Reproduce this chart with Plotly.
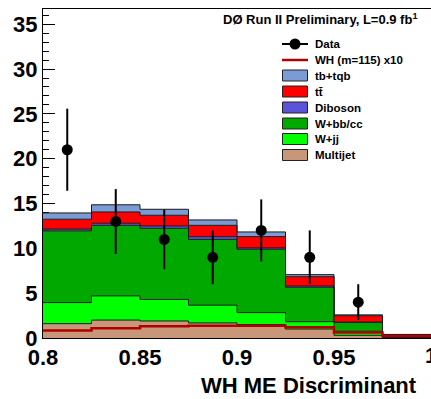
import plotly.graph_objects as go

# ---- data ----
edges = [0.8, 0.825, 0.85, 0.875, 0.9, 0.925, 0.95, 0.975, 1.0]
centers = [0.8125, 0.8375, 0.8625, 0.8875, 0.9125, 0.9375, 0.9625, 0.9875]
multijet = [1.6, 2.0, 1.9, 1.68, 1.5, 1.0, 0.3, 0.05]
w_jj = [2.35, 2.7, 2.4, 1.98, 1.33, 0.82, 0.45, 0.05]
w_bbcc = [8.0, 7.87, 7.94, 7.34, 7.07, 3.84, 1.0, 0.15]
diboson = [0.2, 0.23, 0.26, 0.3, 0.15, 0.14, 0.03, 0.02]
ttbar = [1.1, 1.26, 1.19, 1.27, 1.26, 1.04, 0.7, 0.08]
tb_tqb = [0.7, 0.8, 0.67, 0.6, 0.52, 0.23, 0.1, 0.05]
wh_x10 = [0.85, 1.08, 1.3, 1.38, 1.37, 1.2, 0.62, 0.22]
data = [21, 13, 11, 9, 12, 9, 4, None]
data_err = [4.58, 3.61, 3.32, 3.0, 3.46, 3.0, 2.0, None]

y_ticks = [0, 5, 10, 15, 20, 25, 30, 35]
x_ticks = [0.8, 0.85, 0.9, 0.95]
x_ticktext = ["0.8", "0.85", "0.9", "0.95"]
x_edge_tick = 1.0
x_edge_ticktext = "1"

components = [
    ("Multijet", multijet, "#c89678"),
    ("W+jj", w_jj, "#00ff00"),
    ("W+bb/cc", w_bbcc, "#00a800"),
    ("Diboson", diboson, "#5a55d8"),
    ("tt\u0304", ttbar, "#ff0000"),
    ("tb+tqb", tb_tqb, "#7b9bd6"),
]

W, H = 431, 399
ML, MR, MT, MB = 43, 0, 9, 61
PW, PH = W - ML - MR, H - MT - MB
FONT = "Liberation Sans, Arial, sans-serif"

fig = go.Figure()

cum = [0.0] * len(multijet)
first = True
for name, vals, color in components:
    cum = [c + v for c, v in zip(cum, vals)]
    fig.add_trace(go.Scatter(
        x=edges, y=cum + [cum[-1]], mode="lines", line_shape="hv",
        line=dict(color="#1a1a1a", width=1),
        fill="tozeroy" if first else "tonexty", fillcolor=color,
        name=name, showlegend=False, hoverinfo="skip"))
    first = False

fig.add_trace(go.Scatter(
    x=edges, y=wh_x10 + [wh_x10[-1]], mode="lines", line_shape="hv",
    line=dict(color="#b00000", width=2.5), name="WH (m=115) x10",
    showlegend=False))

fig.add_trace(go.Scatter(
    x=centers, y=data, mode="markers",
    marker=dict(color="black", size=11),
    error_y=dict(type="data", array=data_err, visible=True, color="black",
                 thickness=2, width=0),
    name="Data", showlegend=False))


def px(xp):
    return (xp - ML) / PW


def py(yp):
    return (H - MB - yp) / PH


shapes = []
annotations = []

# manual legend
leg_rows = [
    ("Data", 44, "data", None),
    ("WH (m=115) x10", 60, "line", "#b00000"),
    ("tb+tqb", 75.5, "box", "#7b9bd6"),
    ("tt\u0304", 91.5, "box", "#ff0000"),
    ("Diboson", 107.5, "box", "#5a55d8"),
    ("W+bb/cc", 123.5, "box", "#00a800"),
    ("W+jj", 139, "box", "#00ff00"),
    ("Multijet", 155, "box", "#c89678"),
]
for label, yc, kind, color in leg_rows:
    if kind == "data":
        shapes.append(dict(type="line", xref="paper", yref="paper",
                           x0=px(282), x1=px(308), y0=py(yc), y1=py(yc),
                           line=dict(color="black", width=2)))
        shapes.append(dict(type="circle", xref="paper", yref="paper",
                           x0=px(295 - 5.5), x1=px(295 + 5.5),
                           y0=py(yc + 5.5), y1=py(yc - 5.5),
                           fillcolor="black", line=dict(color="black", width=0)))
    elif kind == "line":
        shapes.append(dict(type="line", xref="paper", yref="paper",
                           x0=px(282), x1=px(308), y0=py(yc), y1=py(yc),
                           line=dict(color=color, width=2.5)))
    else:
        shapes.append(dict(type="rect", xref="paper", yref="paper",
                           x0=px(282.5), x1=px(307.5),
                           y0=py(yc + 5.5), y1=py(yc - 5.5),
                           fillcolor=color, line=dict(color="#222222", width=1)))
    annotations.append(dict(xref="paper", yref="paper", x=px(313), y=py(yc),
                            xanchor="left", yanchor="middle", showarrow=False,
                            text=label,
                            font=dict(family=FONT, size=11.5, color="black",
                                      weight="bold")))

annotations.append(dict(xref="paper", yref="paper", x=px(419), y=py(19),
                        xanchor="right", yanchor="middle", showarrow=False,
                        text="DØ Run II Preliminary, L=0.9 fb<sup>1</sup>",
                        font=dict(family=FONT, size=13, color="black",
                                  weight="bold")))
annotations.append(dict(xref="paper", yref="paper", x=px(419), y=py(385),
                        xanchor="right", yanchor="middle", showarrow=False,
                        text="WH ME Discriminant",
                        font=dict(family=FONT, size=22, color="black",
                                  weight="bold")))
# last x tick label sits on the page edge (partly cut, as in the reference)
annotations.append(dict(xref="x", yref="paper", x=x_edge_tick, y=py(355),
                        xanchor="center", yanchor="middle", showarrow=False,
                        text=x_edge_ticktext,
                        font=dict(family=FONT, size=22, color="black",
                                  weight="bold")))

fig.update_layout(
    width=W, height=H,
    margin=dict(l=ML, r=MR, t=MT, b=MB, pad=0),
    paper_bgcolor="white", plot_bgcolor="white",
    showlegend=False,
    shapes=shapes, annotations=annotations,
    xaxis=dict(range=[0.8, 1.0], tickvals=x_ticks, ticktext=x_ticktext,
               ticks="", showgrid=False, zeroline=False,
               showline=True, linecolor="black", linewidth=1, mirror=True,
               tickfont=dict(family=FONT, size=22, color="black", weight="bold"),
               layer="below traces"),
    yaxis=dict(range=[0, 36.7], tickvals=y_ticks, ticks="inside", ticklen=12,
               tickwidth=1, tickcolor="black", showgrid=False, zeroline=False,
               showline=True, linecolor="black", linewidth=1, mirror=True,
               minor=dict(dtick=1, ticks="inside", ticklen=6, tickcolor="black",
                          showgrid=False),
               tickfont=dict(family=FONT, size=22, color="black", weight="bold"),
               layer="below traces"),
)

fig.write_html("out.html")
